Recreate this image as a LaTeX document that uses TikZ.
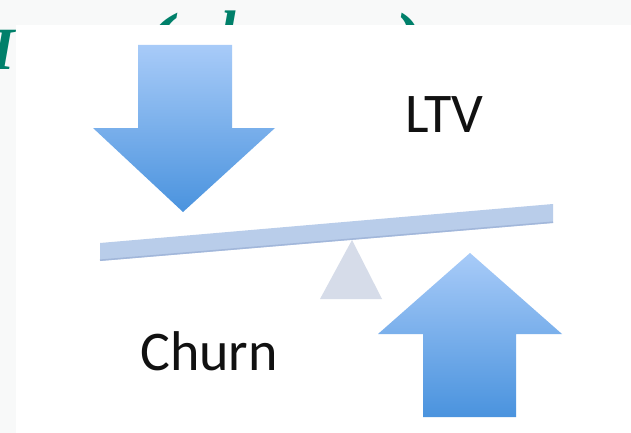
\documentclass[tikz,border=0pt]{standalone}
\usepackage{fontspec}
\setmainfont{Carlito}
\newfontfamily\titlefont{Liberation Serif}
\definecolor{pagegray}{HTML}{F8F9F9}
\definecolor{titleteal}{HTML}{00806A}
\definecolor{arrowlight}{HTML}{A8CBF8}
\definecolor{arrowdark}{HTML}{4A93DE}
\definecolor{beamfill}{HTML}{B9CDEA}
\definecolor{beamedge}{HTML}{A2B7DA}
\definecolor{pivotfill}{HTML}{D6DCE9}
\definecolor{labeltext}{HTML}{111111}
\tikzset{
  titleglyph/.style={inner sep=0pt, text=titleteal, anchor=base west},
  bigarrow/.style={top color=arrowlight, bottom color=arrowdark},
  label/.style={inner sep=0pt, text=labeltext, font=\fontsize{56}{60}\selectfont, anchor=base west}
}
\begin{document}
\begin{tikzpicture}[x=1pt, y=-1pt]
  % page and frame
  \fill[pagegray] (0,0) rectangle (631,433);
  \useasboundingbox (0,0) rectangle (631,433);

  % heading glyphs that sit behind the white panel
  \node[titleglyph, font=\titlefont\bfseries\itshape\fontsize{60}{64}\selectfont] (hI) at (-9,70) {I};
  \node[titleglyph, font=\titlefont\bfseries\itshape\fontsize{90}{96}\selectfont] (hlp) at (142,76) {(};
  \node[titleglyph, font=\titlefont\bfseries\itshape\fontsize{60}{64}\selectfont] (hl) at (219,53) {l};
  \node[titleglyph, font=\titlefont\bfseries\itshape\fontsize{90}{96}\selectfont] (hrp) at (394,76) {)};

  % white panel
  \fill[white] (16,25) rectangle (631,433);

  % pivot and beam
  \fill[pivotfill] (352,240) -- (382,299) -- (320,299) -- cycle;
  \fill[beamfill] (100,243) -- (553,204) -- (553,223) -- (100,261) -- cycle;
  \draw[beamedge, line width=1.5pt] (100,260.2) -- (553,222.2);

  % downward arrow (left)
  \shade[bigarrow] (138,45) -- (232,45) -- (232,128) -- (275,128) -- (183,212)
    -- (93,128) -- (138,128) -- cycle;

  % upward arrow (right)
  \shade[bigarrow] (470,253) -- (562,334) -- (516,334) -- (516,417) -- (423,417)
    -- (423,334) -- (378,334) -- cycle;

  % labels
  \node[label] (ltv) at (405,132) {LTV};
  \node[label] (churn) at (140,370) {Churn};
\end{tikzpicture}
\end{document}
